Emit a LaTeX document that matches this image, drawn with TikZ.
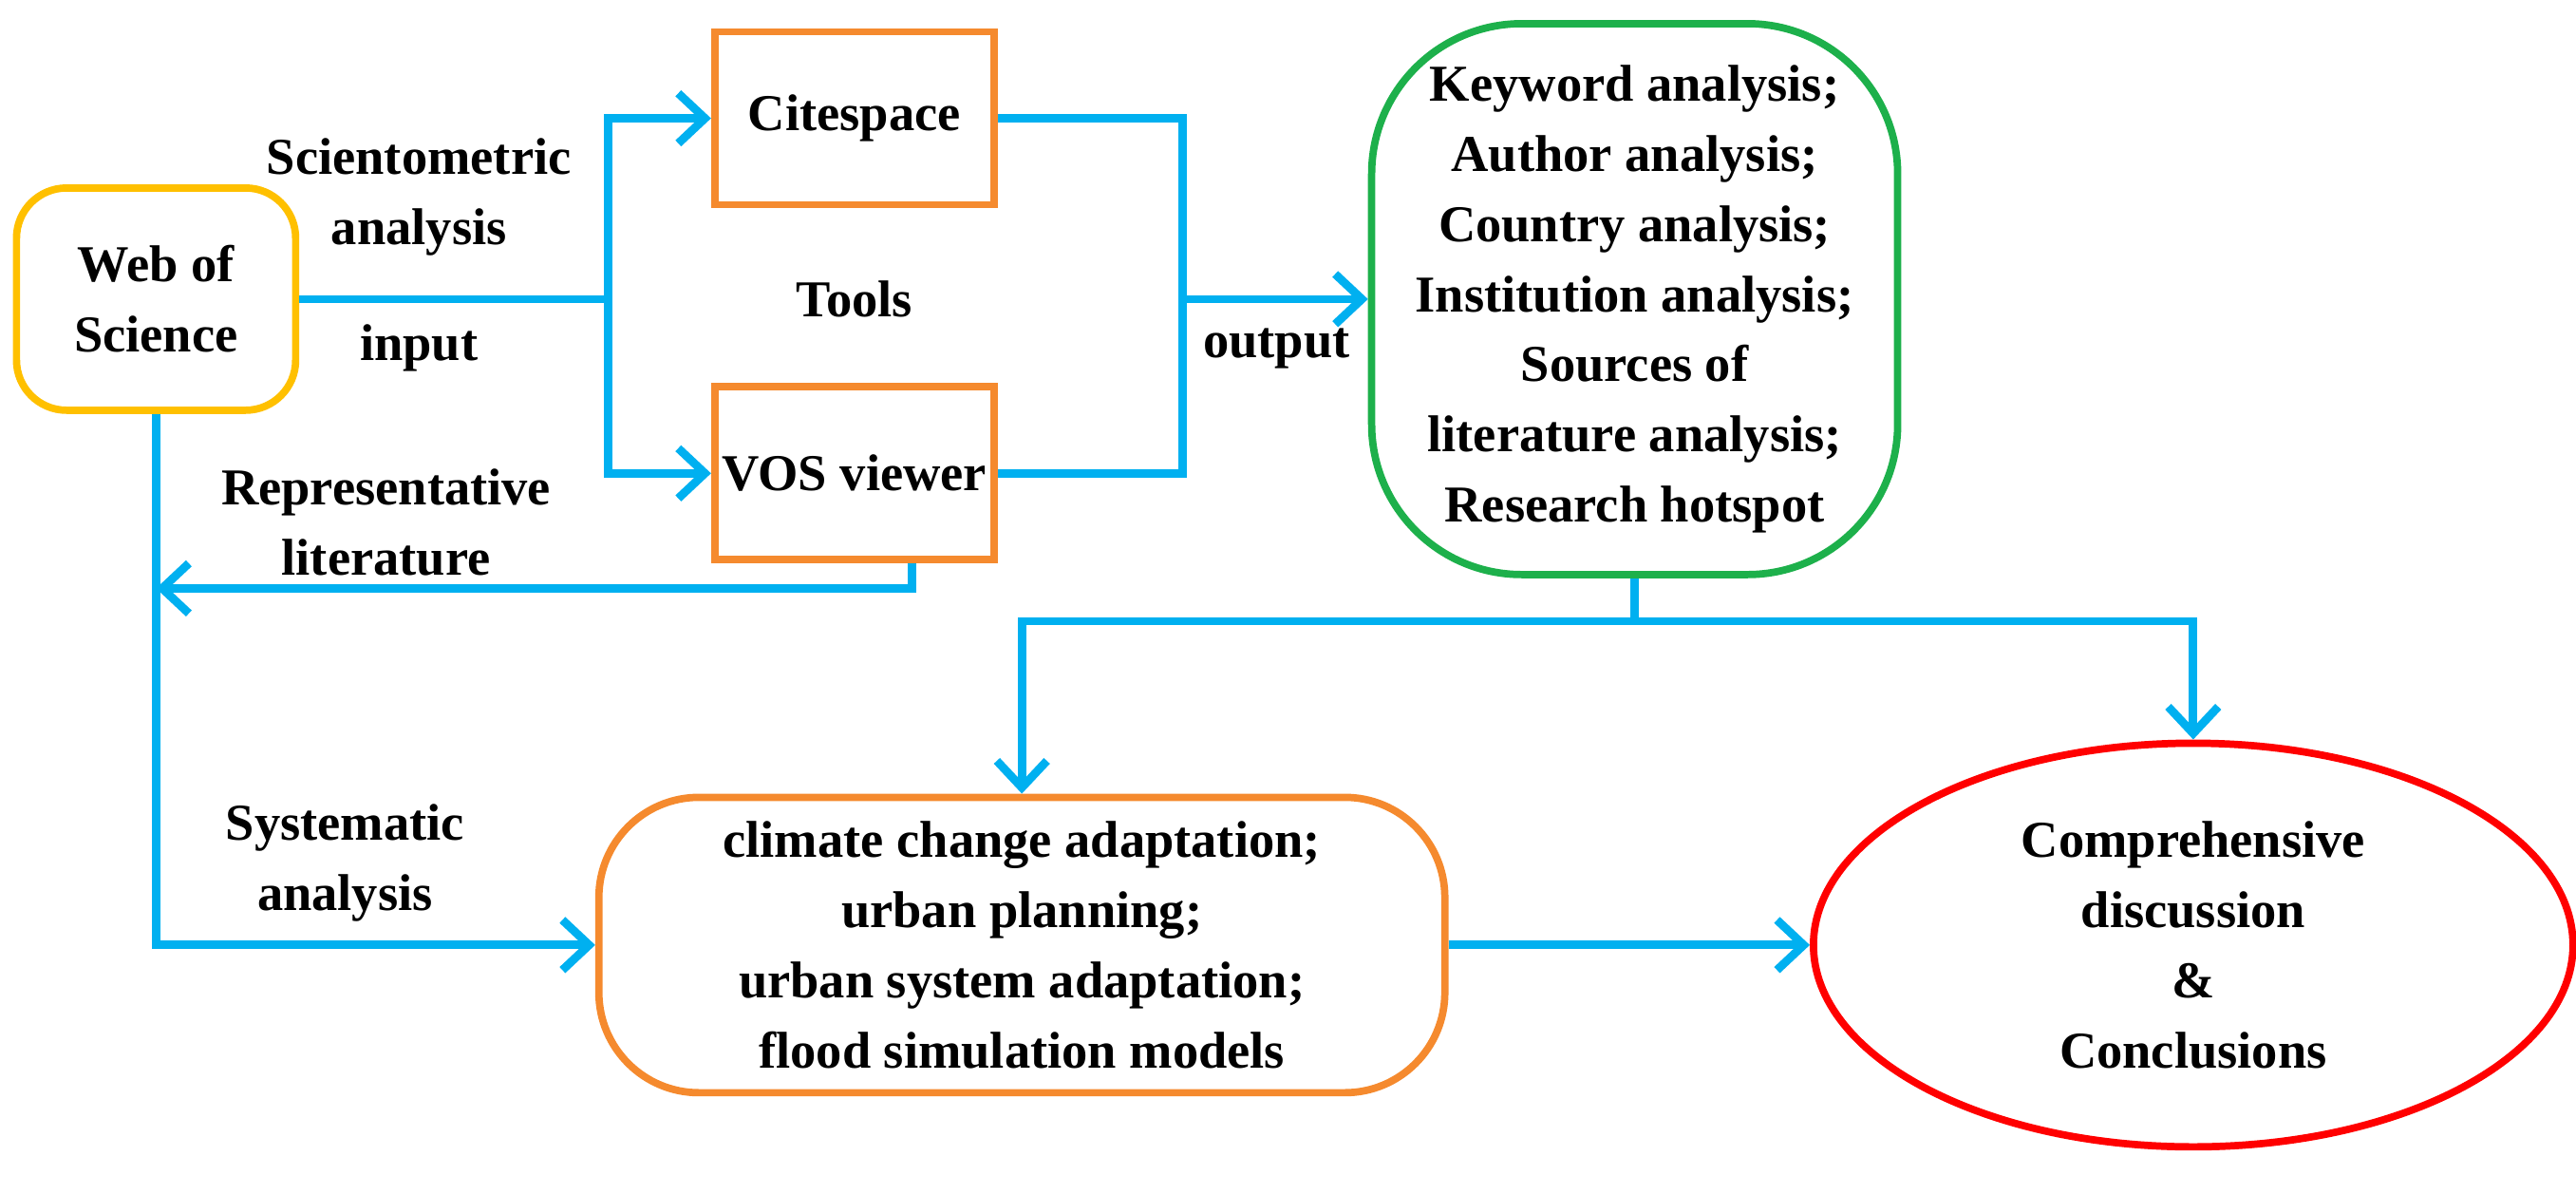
\documentclass[tikz,border=0pt]{standalone}
\usepackage{fontspec}
\setmainfont{Liberation Serif}
\usetikzlibrary{shapes.geometric,arrows.meta}
\definecolor{cblue}{HTML}{00B0F0}
\definecolor{corange}{HTML}{F58A2E}
\definecolor{cyellow}{HTML}{FFC000}
\definecolor{cgreen}{HTML}{1DB04B}
\definecolor{cred}{HTML}{FF0000}
\begin{document}
\begin{tikzpicture}[x=0.0173cm,y=-0.0173cm,
  every node/.style={font=\fontsize{15.5}{21}\selectfont\bfseries,align=center},
  box/.style={draw,line width=2.2pt,inner sep=0pt},
  con/.style={draw=cblue,line width=2.5pt},
  arr/.style={con,-{Straight Barb[length=8pt,width=15pt,line width=2.5pt]}}]
\useasboundingbox (0,0) rectangle (1568,726);
\node[box,draw=cyellow,rounded corners=15pt,minimum width=2.94cm,minimum height=2.34cm] (wos) at (95,182) {Web of\\Science};
\node[box,draw=corange,minimum width=2.94cm,minimum height=1.82cm] (cite) at (520,72) {Citespace};
\node[box,draw=corange,minimum width=2.94cm,minimum height=1.82cm] (vos) at (520,288) {VOS viewer};
\node[box,draw=cgreen,rounded corners=45pt,minimum width=5.54cm,minimum height=5.8cm] (res) at (995,182) {Keyword analysis;\\Author analysis;\\Country analysis;\\Institution analysis;\\Sources of\\literature analysis;\\Research hotspot};
\node[box,draw=cred,ellipse,minimum width=8.0cm,minimum height=4.25cm] (conc) at (1335,575) {Comprehensive\\discussion\\\&\\Conclusions};
\node[box,draw=corange,rounded corners=30pt,minimum width=8.91cm,minimum height=3.11cm] (topic) at (622,575) {climate change adaptation;\\urban planning;\\urban system adaptation;\\flood simulation models};
\coordinate (j1) at (370,182);
\coordinate (j2) at (720,182);
\coordinate (j3) at (995,378);
\coordinate (lb) at (95,358);
\node at (255,120) {Scientometric\\analysis};
\node at (255,212) {input};
\node at (520,182) {Tools};
\node at (777,212) {output};
\node at (235,318) {Representative\\literature};
\node at (210,525) {Systematic\\analysis};
\draw[con] (wos.east) -- (j1);
\draw[arr] (j1) |- (cite.west);
\draw[arr] (j1) |- (vos.west);
\draw[con] (cite.east) -| (j2) |- (vos.east);
\draw[arr] (j2) -- (res.west |- j2);
\draw[arr] (vos.south -| 555,0) |- (lb);
\draw[arr] (wos.south) |- (topic.west);
\draw[con] (res.south) -- (j3);
\draw[arr] (j3) -| (topic.north);
\draw[arr] (j3) -| (conc.north);
\draw[arr] (topic.east) -- (conc.west);
\end{tikzpicture}
\end{document}
